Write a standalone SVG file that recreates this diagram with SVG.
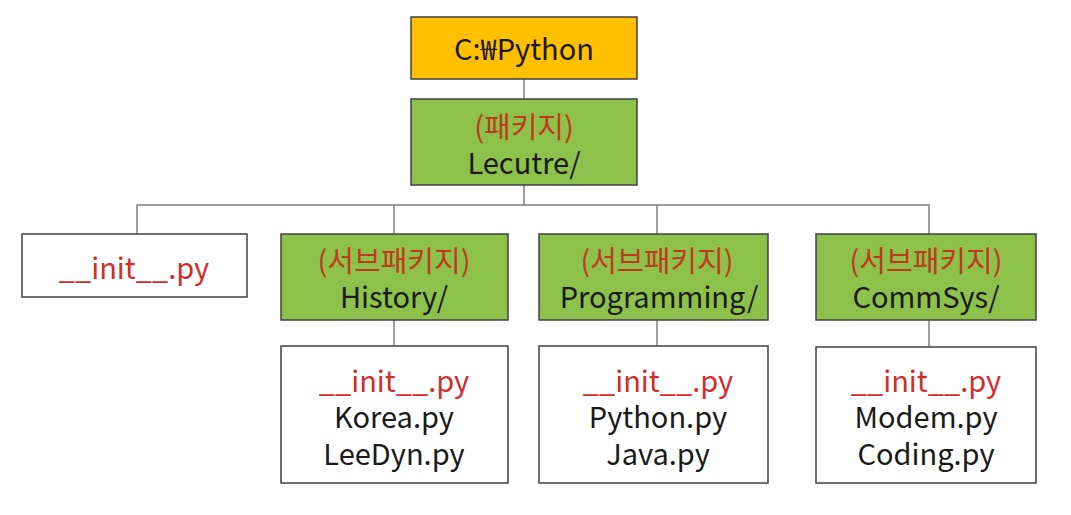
<svg xmlns="http://www.w3.org/2000/svg" width="1071" height="515" viewBox="0 0 1071 515">
<style>
.box{stroke:#404040;stroke-width:1.5}
.orange{fill:#FFC000}
.green{fill:#8DC14B}
.white{fill:#FFFFFF}
text{font-family:"Noto Sans CJK KR","Noto Sans",sans-serif;font-size:29px;text-anchor:middle;dominant-baseline:central}
.dark{fill:#1a1a1a}
.kr{fill:#C0391B}
.red{fill:#D42C2C}
.conn{stroke:#7f7f7f;stroke-width:1.5;fill:none}
</style>
<rect width="1071" height="515" fill="#FFFFFF"/>
<g id="connectors">
<line class="conn" x1="524" y1="79" x2="524" y2="99"/>
<line class="conn" x1="524" y1="185" x2="524" y2="205"/>
<polyline class="conn" points="137,234 137,205 929,205 929,234"/>
<line class="conn" x1="394" y1="205" x2="394" y2="234"/>
<line class="conn" x1="657" y1="205" x2="657" y2="234"/>
<line class="conn" x1="394" y1="320" x2="394" y2="346"/>
<line class="conn" x1="657" y1="320" x2="657" y2="346"/>
<line class="conn" x1="929" y1="320" x2="929" y2="347"/>
</g>
<g id="root">
<rect class="box orange" x="411" y="17" width="226" height="62"/>
<text class="dark" x="524" y="47">C:₩Python</text>
</g>
<g id="lecutre">
<rect class="box green" x="411" y="99" width="226" height="86"/>
<text class="kr" x="524" y="125">(패키지)</text>
<text class="dark" x="524" y="161">Lecutre/</text>
</g>
<g id="init-top">
<rect class="box white" x="22" y="234" width="225" height="63"/>
<text class="red" x="134" y="266">__init__.py</text>
</g>
<g id="history">
<rect class="box green" x="281" y="234" width="227" height="86"/>
<text class="kr" x="394" y="259">(서브패키지)</text>
<text class="dark" x="394" y="295">History/</text>
</g>
<g id="programming">
<rect class="box green" x="539" y="234" width="229" height="86"/>
<text class="kr" x="657" y="259">(서브패키지)</text>
<text class="dark" x="659" y="295">Programming/</text>
</g>
<g id="commsys">
<rect class="box green" x="816" y="234" width="220" height="86"/>
<text class="kr" x="926" y="259">(서브패키지)</text>
<text class="dark" x="926" y="295">CommSys/</text>
</g>
<g id="history-files">
<rect class="box white" x="281" y="346" width="227" height="137"/>
<text class="red" x="394" y="379">__init__.py</text>
<text class="dark" x="394" y="415">Korea.py</text>
<text class="dark" x="394" y="452">LeeDyn.py</text>
</g>
<g id="programming-files">
<rect class="box white" x="539" y="346" width="229" height="137"/>
<text class="red" x="658" y="379">__init__.py</text>
<text class="dark" x="658" y="415">Python.py</text>
<text class="dark" x="658" y="452">Java.py</text>
</g>
<g id="commsys-files">
<rect class="box white" x="816" y="347" width="220" height="136"/>
<text class="red" x="926" y="379">__init__.py</text>
<text class="dark" x="926" y="415">Modem.py</text>
<text class="dark" x="926" y="452">Coding.py</text>
</g>
</svg>
